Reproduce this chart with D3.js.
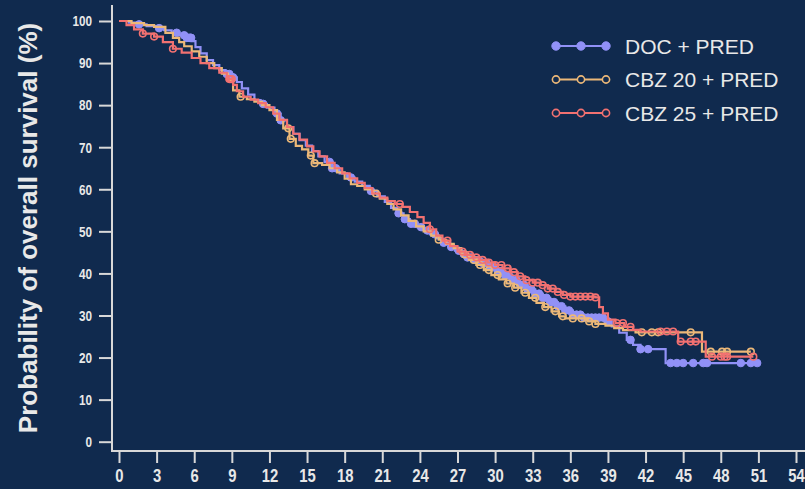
<!DOCTYPE html>
<html>
<head>
<meta charset="utf-8">
<script src="https://cdn.jsdelivr.net/npm/d3@7.9.0/dist/d3.min.js"></script>
<style>
  html, body { margin: 0; padding: 0; background: #102a4e; }
  svg { display: block; }
</style>
</head>
<body>
<svg id="chart" width="805" height="489"></svg>
<script>
// Kaplan-Meier step knots [month, survival %]
const docSteps = [[0,100],[0.8,99.6],[1.5,99.2],[2.2,98.8],[3,98.3],[3.6,97.8],[4.2,97.2],[4.8,96.6],[5.3,96],[5.8,95.2],[6.1,93.8],[6.5,92.3],[7,90.7],[7.5,89.5],[8,88.3],[8.5,87.4],[9,86.6],[9.4,85.5],[9.8,84],[10.3,82.5],[10.8,81.2],[11.3,80.3],[11.8,79.4],[12.4,78],[12.9,76.4],[13.4,74.8],[13.9,73.2],[14.4,71.7],[14.9,70.4],[15.4,69.1],[15.9,67.8],[16.4,66.5],[17,65],[17.6,63.8],[18.2,62.8],[18.8,61.8],[19.4,60.8],[20,59.6],[20.6,58.3],[21.2,57],[21.7,55.6],[22.2,54.3],[22.7,52.9],[23.2,51.8],[23.8,51],[24.3,50.2],[24.8,49.3],[25.3,48.3],[25.8,47.3],[26.3,46.3],[26.8,45.4],[27.3,44.6],[27.8,43.8],[28.4,43.2],[29,42.5],[29.6,41.6],[30.2,40.6],[30.8,39.5],[31.4,38.4],[32,37.3],[32.6,36.2],[33.2,35.2],[33.8,34.2],[34.4,33.2],[35,32.2],[35.6,31.2],[36.2,30.2],[36.9,29.5],[38.7,28.6],[39.3,27.4],[39.9,25.9],[40.5,24.2],[41,23],[41.6,22],[43.6,18.7],[50.9,18.7]];
const cbz20Steps = [[0,100],[1,99.5],[2,99],[2.8,98.6],[3.7,97.2],[4.3,96],[4.8,95],[5.2,94],[5.8,92.8],[6.4,91.5],[7,90],[7.6,88.8],[8.2,87.5],[8.7,86],[9.1,83.5],[9.6,82],[10.2,81.4],[10.8,80.8],[11.4,80],[12,78.8],[12.6,76.5],[13.1,74.5],[13.6,72],[14.1,70.3],[14.6,69.5],[15.1,68],[15.5,66.2],[16.2,65.8],[16.8,65],[17.4,64],[18,62.5],[18.5,61.2],[19,60.8],[19.6,60],[20.2,59],[20.8,57.8],[21.4,56.5],[21.9,55.2],[22.5,53.8],[23.1,52.5],[23.7,51.2],[24.3,50],[24.9,49],[25.5,48],[26.1,47],[26.7,46],[27.3,44.5],[27.9,43.2],[28.5,42],[29.1,40.8],[29.7,39.6],[30.3,38.6],[30.9,37.6],[31.5,36.6],[32.1,35.4],[32.7,34.2],[33.3,33],[33.9,32],[34.5,31],[35.1,29.8],[35.6,29.3],[37.4,28.6],[38,28],[38.8,27.6],[39.5,27],[40.2,26.5],[41.2,26],[46.5,21.4],[50.4,21.4]];
const cbz25Steps = [[0,100],[0.6,99],[1.2,98],[1.9,97],[2.8,96.3],[3.5,95],[4.3,93.4],[5,92.5],[5.8,91.2],[6.5,90],[7.2,88.8],[8,87.7],[8.6,86.2],[9.1,84.8],[9.4,83.3],[9.9,82],[10.5,81.3],[11.1,80.5],[11.7,79.5],[12.3,78],[12.8,76.5],[13.4,74.8],[13.9,73.2],[14.4,71.8],[15,70.2],[15.5,69],[16,67.8],[16.6,66.3],[17.2,65],[17.8,63.8],[18.4,62.6],[19,61.5],[19.6,60.3],[20.2,59],[20.8,58],[21.4,57.2],[22,56.5],[22.6,55.8],[23.2,54.6],[23.8,53.4],[24.3,52],[24.8,50.5],[25.3,49],[25.8,47.8],[26.4,46.5],[27,45.2],[27.6,44.4],[28.2,43.8],[28.8,43.2],[29.4,42.6],[30,42],[30.6,41.2],[31.2,40.3],[31.8,39.3],[32.4,38.4],[33,37.8],[33.6,37.2],[34.2,36.4],[34.8,35.6],[35.4,34.9],[36,34.5],[38,34.3],[38.3,32],[38.6,30.5],[39,29],[39.6,28.2],[40.3,27.3],[41,26.6],[41.6,26.2],[44.6,23.8],[46.8,20.2],[50.6,20.2]];

// censoring times (months)
const docCensor = [1.6,3.2,4.6,5.2,5.4,5.5,5.6,5.7,5.75,8.6,8.8,9.0,9.1,11.5,12.6,12.9,16.8,17.0,17.3,18.5,20.1,22.3,22.8,23.3,23.6,24.1,24.6,25.2,25.9,26.5,27.1,27.5,27.8,28.1,28.4,28.7,29.0,29.3,29.6,29.9,30.2,30.5,30.8,31.1,31.4,31.7,32.0,32.3,32.6,32.9,33.2,33.5,33.8,34.1,34.4,34.7,35.0,35.3,35.6,35.9,36.2,36.5,36.8,37.1,37.4,37.7,38.0,38.3,38.6,39.0,40.8,41.6,42.2,44.0,44.5,45.0,45.8,46.6,46.9,49.6,50.4,50.9];
const cbz20Censor = [9.7,13.5,13.7,15.3,15.6,20.5,25.5,27.6,28.3,28.8,29.5,30.2,31.0,31.6,32.4,33.2,34.0,34.8,35.4,36.2,36.9,37.5,38.0,41.7,42.5,43.0,45.6,47.2,48.1,48.5,50.4];
const cbz25Censor = [1.9,2.8,4.3,8.8,8.9,9.0,22.4,24.8,26.2,27.4,28.0,28.5,29.0,29.5,30.0,30.5,31.0,31.5,32.0,32.5,33.0,33.4,33.8,34.2,34.6,35.0,35.5,36.0,36.4,36.8,37.2,37.6,38.0,39.7,40.2,40.8,43.2,43.7,44.2,44.8,45.6,46.0,47.3,48.0,48.3,48.5,50.6];

const seriesNames = ["DOC + PRED", "CBZ 20 + PRED", "CBZ 25 + PRED"];
const seriesColors = ["#9191f7", "#ecb878", "#f27171"];
const xTicks = d3.range(0, 55, 3);
const yTicks = d3.range(0, 101, 10);

const series = [
  { name: seriesNames[0], steps: docSteps, censor: docCensor, color: seriesColors[0], filled: true },
  { name: seriesNames[1], steps: cbz20Steps, censor: cbz20Censor, color: seriesColors[1], filled: false },
  { name: seriesNames[2], steps: cbz25Steps, censor: cbz25Censor, color: seriesColors[2], filled: false }
];

const svg = d3.select("#chart");
const bg = "#102a4e";
const axisColor = "#d8d8d8";

const x = d3.scaleLinear().domain([0, 54]).range([119, 796]);
const y = d3.scaleLinear().domain([0, 100]).range([441.7, 21]);

// axes, offset from the plot like the original
const yAxis = svg.append("g")
  .attr("transform", "translate(112,0)")
  .call(d3.axisLeft(y).tickValues(yTicks).tickSize(13).tickPadding(7));
yAxis.select(".domain").remove();
svg.append("line").attr("x1", 112).attr("x2", 112).attr("y1", 5).attr("y2", 451)
  .attr("stroke", axisColor).attr("stroke-width", 2);

const xAxis = svg.append("g")
  .attr("transform", "translate(0,451)")
  .call(d3.axisBottom(x).tickValues(xTicks).tickSize(12).tickPadding(6));
xAxis.select(".domain").remove();
svg.append("line").attr("x1", 111).attr("x2", 805).attr("y1", 451).attr("y2", 451)
  .attr("stroke", axisColor).attr("stroke-width", 2);

svg.selectAll(".tick line").attr("stroke", axisColor).attr("stroke-width", 2);
svg.selectAll(".tick text")
  .attr("fill", "#e8e8e8")
  .attr("font-family", "'Liberation Sans', Arial, sans-serif")
  .attr("font-weight", "bold");
yAxis.selectAll(".tick text").attr("font-size", 15);
xAxis.selectAll(".tick text").attr("font-size", 19);

// no narrow font installed: squeeze the tick labels horizontally
svg.selectAll(".tick text").each(function () {
  const w = this.getComputedTextLength();
  d3.select(this).attr("textLength", w * 0.78).attr("lengthAdjust", "spacingAndGlyphs");
});

svg.append("text")
  .attr("transform", "translate(37,228) rotate(-90)")
  .attr("text-anchor", "middle")
  .attr("fill", "#e8e8e8")
  .attr("font-family", "'Liberation Sans', Arial, sans-serif")
  .attr("font-weight", "bold")
  .attr("font-size", 26)
  .text("Probability of overall survival (%)");

const line = d3.line()
  .x(d => x(d[0]))
  .y(d => y(d[1]))
  .curve(d3.curveStepAfter);

function survivalAt(steps, t) {
  let s = steps[0][1];
  for (const [tt, v] of steps) { if (tt <= t) s = v; else break; }
  return s;
}

series.forEach(s => {
  const g = svg.append("g");
  g.append("path")
    .attr("d", line(s.steps))
    .attr("fill", "none")
    .attr("stroke", s.color)
    .attr("stroke-width", 2.2);
  g.selectAll("circle")
    .data(s.censor)
    .join("circle")
    .attr("cx", t => x(t))
    .attr("cy", t => y(survivalAt(s.steps, t)))
    .attr("r", s.filled ? 3.8 : 3.3)
    .attr("fill", s.filled ? s.color : "none")
    .attr("stroke", s.color)
    .attr("stroke-width", s.filled ? 1 : 1.6);
});

// legend
const legend = svg.append("g");
series.forEach((s, i) => {
  const ly = 46 + i * 33.5;
  legend.append("line")
    .attr("x1", 556).attr("x2", 606).attr("y1", ly).attr("y2", ly)
    .attr("stroke", s.color).attr("stroke-width", 2);
  legend.selectAll(null)
    .data([556, 581, 606])
    .join("circle")
    .attr("cx", d => d).attr("cy", ly)
    .attr("r", s.filled ? 4.2 : 3.6)
    .attr("fill", s.filled ? s.color : bg)
    .attr("stroke", s.color)
    .attr("stroke-width", s.filled ? 1 : 1.6);
  legend.append("text")
    .attr("x", 625).attr("y", ly)
    .attr("dy", "0.36em")
    .attr("fill", "#e8e8e8")
    .attr("font-family", "'Liberation Sans', Arial, sans-serif")
    .attr("font-size", 21)
    .text(s.name);
});
</script>
</body>
</html>
